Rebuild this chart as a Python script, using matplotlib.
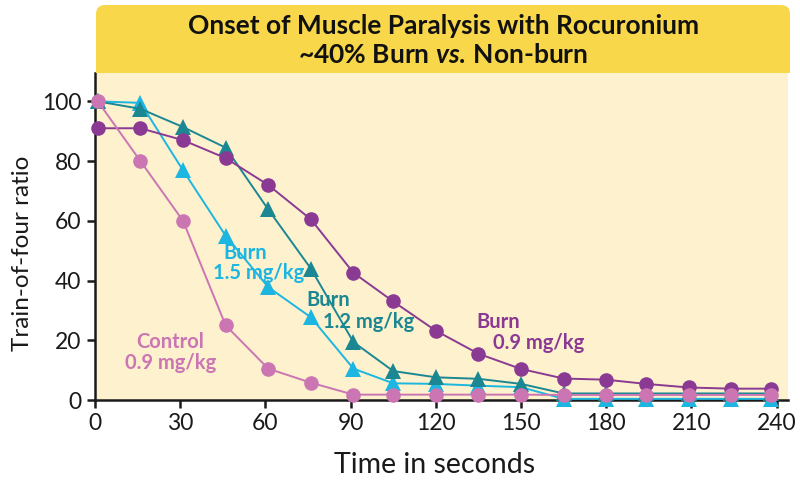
import matplotlib
matplotlib.use('Agg')
import matplotlib.pyplot as plt
import matplotlib.patches as mpatches
import matplotlib.transforms as mtransforms

plt.rcParams.update({
    'font.family': ['Lato', 'DejaVu Sans'],
    'mathtext.fontset': 'custom',
    'mathtext.it': 'Lato:italic:bold',
    'mathtext.rm': 'Lato:bold',
})

C_HEAD = '#F8D84A'
C_BG = '#FDF1CE'
C_PURPLE = '#8B3A93'
C_PINK = '#CB75B3'
C_TEAL = '#1B8792'
C_CYAN = '#1DB6E0'

# time points (s)
time_s = [1, 16, 31, 46, 61, 76, 91, 105, 120, 135, 150, 165, 180, 194, 209, 224, 238]

burn_09 = [91, 91, 87, 81, 72, 60.5, 42.6, 33, 23.2, 15.5, 10.4, 7.2, 6.8, 5.4, 4.2, 3.8, 3.8]
burn_12 = [100, 97.5, 91.4, 84.5, 63.8, 44, 19.4, 9.7, 7.6, 7.1, 5.4, 2.2, 2.2, 2.2, 2.2, 2.2, 2.2]
burn_15 = [100, 99.5, 76.9, 55, 37.8, 27.7, 10.5, 5.6, 5.4, 4.8, 4.3, 0.4, 0.4, 0.4, 0.4, 0.4, 0.4]
control_09 = [100, 80, 60, 25, 10.5, 5.8, 1.8, 1.8, 1.8, 1.8, 1.8, 1.7, 1.7, 1.7, 1.7, 1.7, 1.7]

x_ticks = [0, 30, 60, 90, 120, 150, 180, 210, 240]
y_ticks = [0, 20, 40, 60, 80, 100]

fig = plt.figure(figsize=(8, 4.87), dpi=100)
ax = fig.add_axes([0.11875, 0.1786, 0.86625, 0.6715])
ax.set_facecolor(C_BG)

# header band: rounded top corners, square bottom
ident = mtransforms.IdentityTransform()
fig.add_artist(mpatches.FancyBboxPatch((96, 414), 694, 68,
                                       boxstyle='round,pad=0,rounding_size=9',
                                       facecolor=C_HEAD, edgecolor='none',
                                       transform=ident))
fig.add_artist(mpatches.Rectangle((96, 414), 694, 20, facecolor=C_HEAD,
                                  edgecolor='none', transform=ident))
fig.text(0.554, 0.9466, 'Onset of Muscle Paralysis with Rocuronium',
         ha='center', va='center', fontsize=19, fontweight='bold', color='#111111')
fig.text(0.554, 0.887, r'~40% Burn $\mathit{vs.}\,$Non-burn',
         ha='center', va='center', fontsize=19, fontweight='bold', color='#111111')

series = [
    (burn_15, C_CYAN, '^', 12),
    (burn_12, C_TEAL, '^', 12),
    (burn_09, C_PURPLE, 'o', 10.5),
    (control_09, C_PINK, 'o', 10.5),
]
for i, (vals, col, mk, ms) in enumerate(series):
    ax.plot(time_s, vals, color=col, linewidth=1.4, marker=mk, markersize=ms,
            markeredgewidth=0, clip_on=False, zorder=3 + i)

labels = [
    (45.1, 49.2, 'Burn', C_CYAN), (41.5, 42.5, '1.5 mg/kg', C_CYAN),
    (74.3, 33.5, 'Burn', C_TEAL), (80.3, 26.1, '1.2 mg/kg', C_TEAL),
    (134.2, 26.2, 'Burn', C_PURPLE), (140.1, 19.2, '0.9 mg/kg', C_PURPLE),
    (14.4, 19.5, 'Control', C_PINK), (10.6, 12.5, '0.9 mg/kg', C_PINK),
]
for x, y, s, col in labels:
    ax.text(x, y, s, color=col, fontsize=14.5, fontweight='bold',
            ha='left', va='center', zorder=10)

ax.set_xlim(0, 244)
ax.set_ylim(0, 109.5)
ax.set_xticks(x_ticks)
ax.set_yticks(y_ticks)
ax.tick_params(direction='out', length=6, width=1.8, labelsize=16.5,
               colors='#1a1a1a', pad=3)
ax.tick_params(axis='y', pad=4)
for side in ('top', 'right'):
    ax.spines[side].set_visible(False)
for side in ('left', 'bottom'):
    ax.spines[side].set_linewidth(1.8)
    ax.spines[side].set_color('#1a1a1a')

ax.set_xlabel('Time in seconds', fontsize=20.5, color='#1a1a1a')
ax.xaxis.set_label_coords(0.49, -0.16)
ax.set_ylabel('Train-of-four ratio', fontsize=17.5, color='#1a1a1a')
ax.yaxis.set_label_coords(-0.09, 0.45)

fig.savefig('out.png', dpi=100)
